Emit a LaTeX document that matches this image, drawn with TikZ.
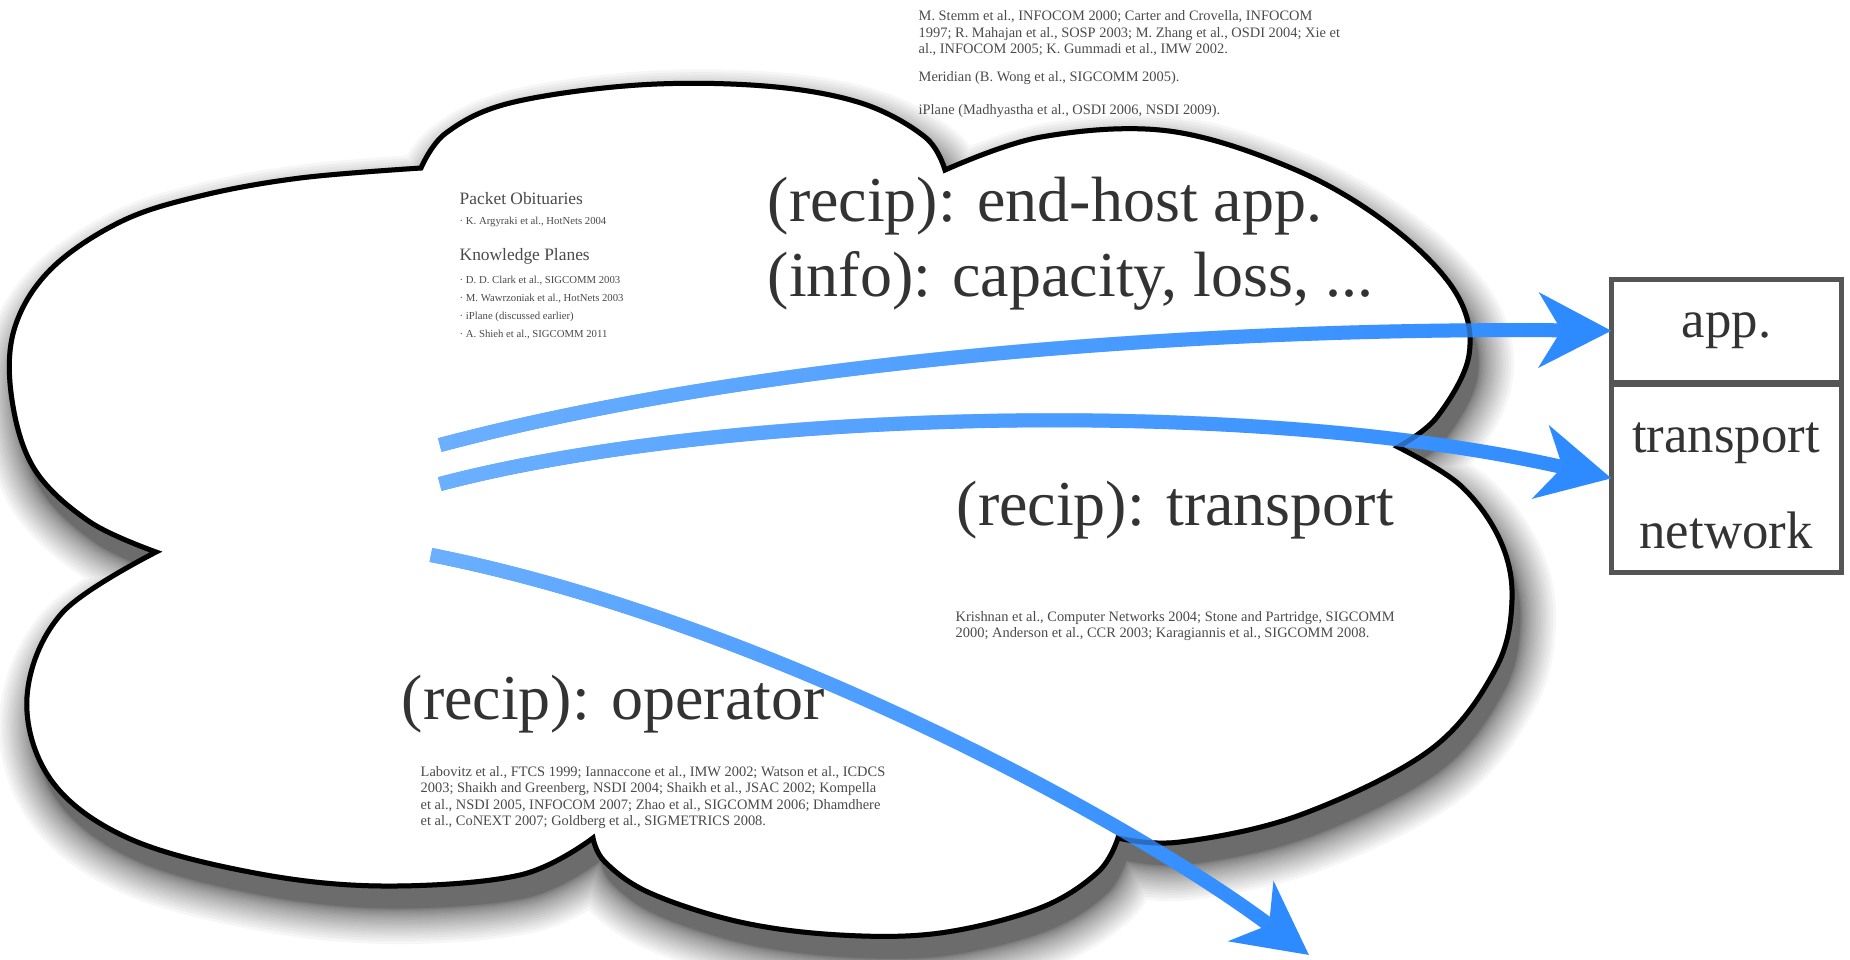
\documentclass[tikz,border=0pt]{standalone}
\usepackage{fontspec}
\setmainfont{Liberation Serif}
\usetikzlibrary{arrows.meta,positioning,fadings}
\definecolor{inkgray}{HTML}{333333}
\definecolor{refgray}{HTML}{4A4A4A}
\definecolor{boxgray}{HTML}{555555}
\definecolor{arrowdark}{HTML}{2E8BFF}
\definecolor{arrowlight}{HTML}{6CB0FF}
\tikzfading[name=lighttail,left color=transparent!0,right color=transparent!100]
% outline of the cloud, one smooth plot per bump
\newcommand{\cloudpath}{(421,168)
 --plot[smooth,tension=0.6]coordinates{(421,168)(446,133)(510,103)(638,85)(765,86)(861,103)(925,137)(945,170)}
 --plot[smooth,tension=0.6]coordinates{(945,170)(1041,137)(1169,131)(1296,170)(1392,227)(1456,293)(1469,355)(1437,417)(1398,447)}
 --plot[smooth,tension=0.6]coordinates{(1398,447)(1460,485)(1500,540)(1512,600)(1495,670)(1430,750)(1300,815)(1180,842)(1118,838)}
 --plot[smooth,tension=0.6]coordinates{(1118,838)(1098,872)(1040,908)(940,933)(840,935)(740,922)(650,893)(605,862)(593,838)}
 --plot[smooth,tension=0.6]coordinates{(593,838)(520,875)(383,886)(255,873)(128,838)(51,780)(27,697)(62,613)(156,552)}
 --plot[smooth,tension=0.6]coordinates{(156,552)(90,522)(35,470)(12,400)(14,330)(50,270)(120,222)(200,196)(300,178)(421,168)}
 --cycle}

\begin{document}
\begin{tikzpicture}[x=0.01cm,y=-0.01cm,
  bigtext/.style={inner sep=0,anchor=west,text=inkgray,font=\fontsize{18.2}{22}\selectfont},
  reftext/.style={inner sep=0,anchor=west,align=left,text=refgray,font=\fontsize{4.1}{4.69}\selectfont},
  headtext/.style={inner sep=0,anchor=west,text=refgray,font=\fontsize{4.95}{5.9}\selectfont},
  listtext/.style={inner sep=0,anchor=west,align=left,text=refgray,font=\fontsize{3.05}{5.1}\selectfont},
  layerbox/.style={draw=boxgray,line width=0.05cm,fill=white,minimum width=2.30cm,inner sep=0,outer sep=0,text=inkgray,font=\fontsize{15}{18}\selectfont},
  boxtext/.style={inner sep=0,text=inkgray,font=\fontsize{15}{18}\selectfont},
  flow/.style={draw=arrowdark,line width=0.14cm,-{Stealth[length=0.72cm,width=0.74cm,inset=0.22cm]}},
  flowlight/.style={draw=arrowlight,line width=0.14cm,path fading=lighttail,fit fading=true,shorten >=0.5cm}]
\useasboundingbox(0,0)rectangle(1850,959);
% blurred drop shadow
\begin{scope}[shift={(8,22)}]
\foreach \k in {1,...,24}{
  \begin{scope}[transparency group,opacity=0.035]
  \filldraw[black,line width={0.2845pt*72*(\k/24)^2},line join=round]\cloudpath;
  \end{scope}}
\end{scope}
\filldraw[fill=white,draw=black,line width=0.05cm]\cloudpath;
% references
\node[reftext](stemm)at(918,33.5){M. Stemm et al., INFOCOM 2000; Carter and Crovella, INFOCOM\\1997; R. Mahajan et al., SOSP 2003; M. Zhang et al., OSDI 2004; Xie et\\al., INFOCOM 2005; K. Gummadi et al., IMW 2002.};
\node[reftext](meridian)at(918,78){Meridian (B. Wong et al., SIGCOMM 2005).};
\node[reftext](iplane)at(918,111){iPlane (Madhyastha et al., OSDI 2006, NSDI 2009).};
\node[headtext](obit)at(459,199){Packet Obituaries};
\node[listtext](argyraki)at(459,222){· K. Argyraki et al., HotNets 2004};
\node[headtext](kplanes)at(459,256){Knowledge Planes};
\node[listtext](kplist)at(459,307.5){· D. D. Clark et al., SIGCOMM 2003\\· M. Wawrzoniak et al., HotNets 2003\\· iPlane (discussed earlier)\\· A. Shieh et al., SIGCOMM 2011};
\node[reftext](krishnan)at(955,626){Krishnan et al., Computer Networks 2004; Stone and Partridge, SIGCOMM\\2000; Anderson et al., CCR 2003; Karagiannis et al., SIGCOMM 2008.};
\node[reftext](labovitz)at(420,797.5){Labovitz et al., FTCS 1999; Iannaccone et al., IMW 2002; Watson et al., ICDCS\\2003; Shaikh and Greenberg, NSDI 2004; Shaikh et al., JSAC 2002; Kompella\\et al., NSDI 2005, INFOCOM 2007; Zhao et al., SIGCOMM 2006; Dhamdhere\\et al., CoNEXT 2007; Goldberg et al., SIGMETRICS 2008.};
% recipients
\node[bigtext](endhost)at(767,206){(recip): end-host app.};
\node[bigtext](info)at(767,281){(info): capacity, loss, ...};
\node[bigtext](transp)at(956,510){(recip): transport};
\node[bigtext](oper)at(401,704){(recip): operator};
% layers
\node[layerbox,minimum height=1.025cm](app)at(1726.5,330.75){app.};
\node[layerbox,minimum height=1.885cm,below=0.02cm of app](stack){};
\node[boxtext](transport)at(1726,443){transport};
\node[boxtext](network)at(1726,530){network};
% arrows
\coordinate(apptail)at(440,445);
\coordinate(stacktail)at(440,484);
\coordinate(optail)at(431,555);
\coordinate(opend)at(1309,955);
\draw[flow](apptail)..controls(760,360)and(1200,327)..(app.west);
\draw[flowlight](apptail)..controls(760,360)and(1200,327)..(app.west);
\draw[flow](stacktail)..controls(720,410)and(1250,395)..(stack.west);
\draw[flowlight](stacktail)..controls(720,410)and(1250,395)..(stack.west);
\draw[flow](optail)..controls(760,620)and(1130,820)..(opend);
\draw[flowlight](optail)..controls(760,620)and(1130,820)..(opend);
\draw[black,opacity=0.25,line width=0.05cm]\cloudpath;
\end{tikzpicture}
\end{document}
